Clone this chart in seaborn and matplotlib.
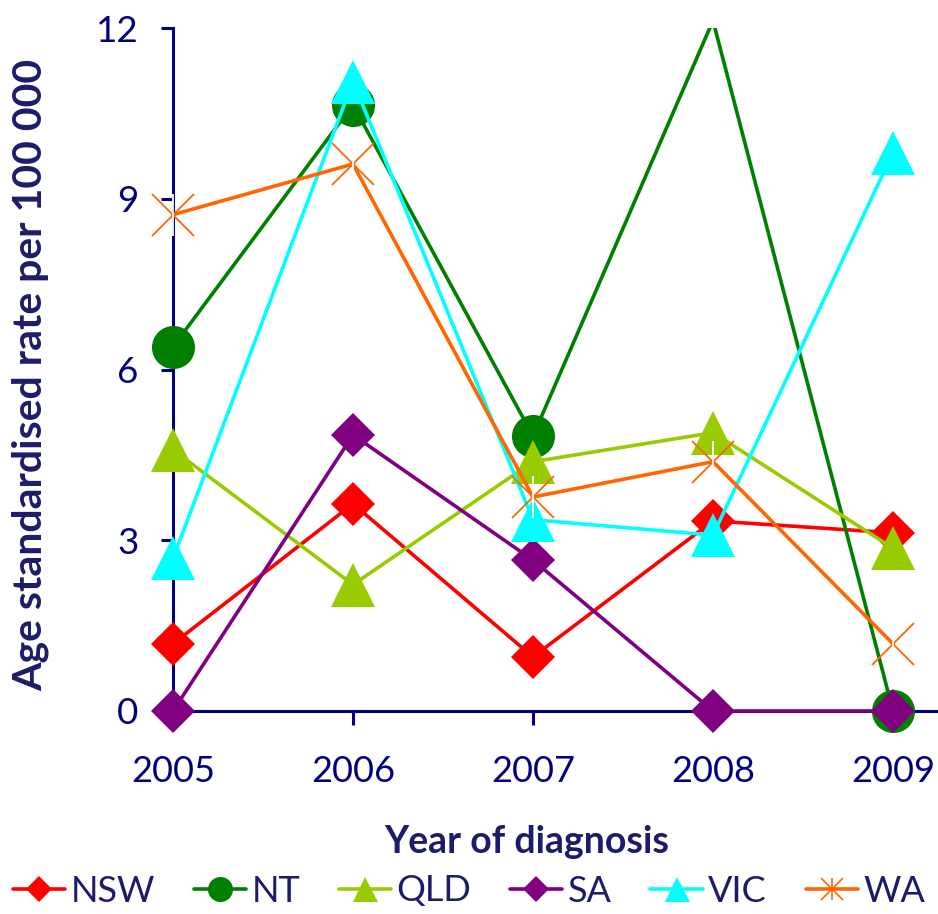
import matplotlib
matplotlib.use("Agg")
import matplotlib.pyplot as plt
from matplotlib.lines import Line2D
from matplotlib.patches import Rectangle
from matplotlib.legend_handler import HandlerTuple
import seaborn as sns
import pandas as pd

# Age standardised rate per 100 000 by state/territory and year of diagnosis
years = [2005, 2006, 2007, 2008, 2009]
nsw = [1.18, 3.64, 0.95, 3.34, 3.13]
nt = [6.40, 10.65, 4.83, 12.13, 0.0]
qld = [4.59, 2.22, 4.38, 4.89, 2.86]
sa = [0.0, 4.85, 2.65, 0.0, 0.0]
vic = [2.68, 11.06, 3.36, 3.09, 9.81]
wa = [8.72, 9.61, 3.76, 4.38, 1.18]

states = ["NSW", "NT", "QLD", "SA", "VIC", "WA"]
series = [nsw, nt, qld, sa, vic, wa]
colors = ["#FF0000", "#008000", "#99CC00", "#800080", "#00FFFF", "#FF6600"]
markers = ["D", "o", "^", "D", "^", "x"]
msizes = [22, 31, 31, 22, 31, 30]

YMAX = 12
NAVY = "#000080"
LABEL = "#1C1C6A"

sns.set_style("white")
plt.rcParams["font.family"] = ["Lato", "DejaVu Sans"]

fig = plt.figure(figsize=(9.38, 9.14), dpi=100)
W, H = 938, 914
ax = fig.add_axes([173 / W, (H - 711) / H, (W - 173) / W, (711 - 28) / H])

df = pd.DataFrame({"year": years})
for name, vals in zip(states, series):
    df[name] = vals

outer = Rectangle((-0.1, -0.1), 1.2, 1.1, transform=ax.transAxes)

for name, col, mk, ms in zip(states, colors, markers, msizes):
    vals = df[name].tolist()
    shown = [i for i, v in enumerate(vals) if v <= YMAX]
    filled = mk not in ("x",)
    sns.lineplot(data=df, x="year", y=name, ax=ax, color=col, lw=2.6,
                 marker=mk, markersize=ms, markevery=shown,
                 markeredgewidth=0 if filled else 1.3,
                 markeredgecolor=col, markerfacecolor=col)
    line = ax.lines[-1]
    line.set_clip_path(outer)
    if name == "WA":
        sns.lineplot(data=df, x="year", y=name, ax=ax, color=col,
                     linestyle="none", marker="|", markersize=ms,
                     markeredgewidth=1.3, markevery=shown)
        ax.lines[-1].set_clip_path(outer)

ax.set_xlim(2005, 2005 + (W - 173) / 180)
ax.set_ylim(0, YMAX)
ax.set_xticks(years)
ax.set_xticklabels([str(y) for y in years])
ax.set_yticks([0, 3, 6, 9, 12])
ax.set_xlabel("")
ax.set_ylabel("")

for side in ("top", "right"):
    ax.spines[side].set_visible(False)
for side in ("left", "bottom"):
    ax.spines[side].set_color(NAVY)
    ax.spines[side].set_linewidth(2.2)
    ax.spines[side].set_zorder(0.5)

ax.tick_params(axis="y", direction="out", length=9, width=2.2, color=NAVY,
               labelcolor=NAVY, labelsize=26.5, pad=16, left=True)
ax.tick_params(axis="x", direction="out", length=10, width=2.2, color=NAVY,
               labelcolor=NAVY, labelsize=26, pad=22, bottom=True)

fig.text(527 / W, 1 - 842 / H, "Year of diagnosis", ha="center", va="center",
         fontsize=27, fontweight="bold", color=LABEL)
fig.text(30 / W, 1 - 375 / H, "Age standardised rate per 100 000", ha="center",
         va="center", rotation=90, fontsize=29.5, fontweight="bold", color=LABEL)

handles = []
for name, col, mk in zip(states, colors, markers):
    if name == "WA":
        h1 = Line2D([], [], color=col, lw=2.6, marker="x", markersize=16,
                    markeredgewidth=1.2)
        h2 = Line2D([], [], color=col, lw=0, marker="|", markersize=16,
                    markeredgewidth=1.2)
        handles.append((h1, h2))
    else:
        ms = 13 if mk == "D" else 18
        handles.append(Line2D([], [], color=col, lw=2.6, marker=mk,
                              markersize=ms, markeredgewidth=0))

leg = fig.legend(handles, states, loc="center", bbox_to_anchor=(0.5, 1 - 891 / H),
                 ncol=6, frameon=False, fontsize=26, handlelength=1.45,
                 handletextpad=0.15, columnspacing=1.07,
                 handler_map={tuple: HandlerTuple(ndivide=1)})
for t in leg.get_texts():
    t.set_color(LABEL)

fig.savefig("out.png", dpi=100)
